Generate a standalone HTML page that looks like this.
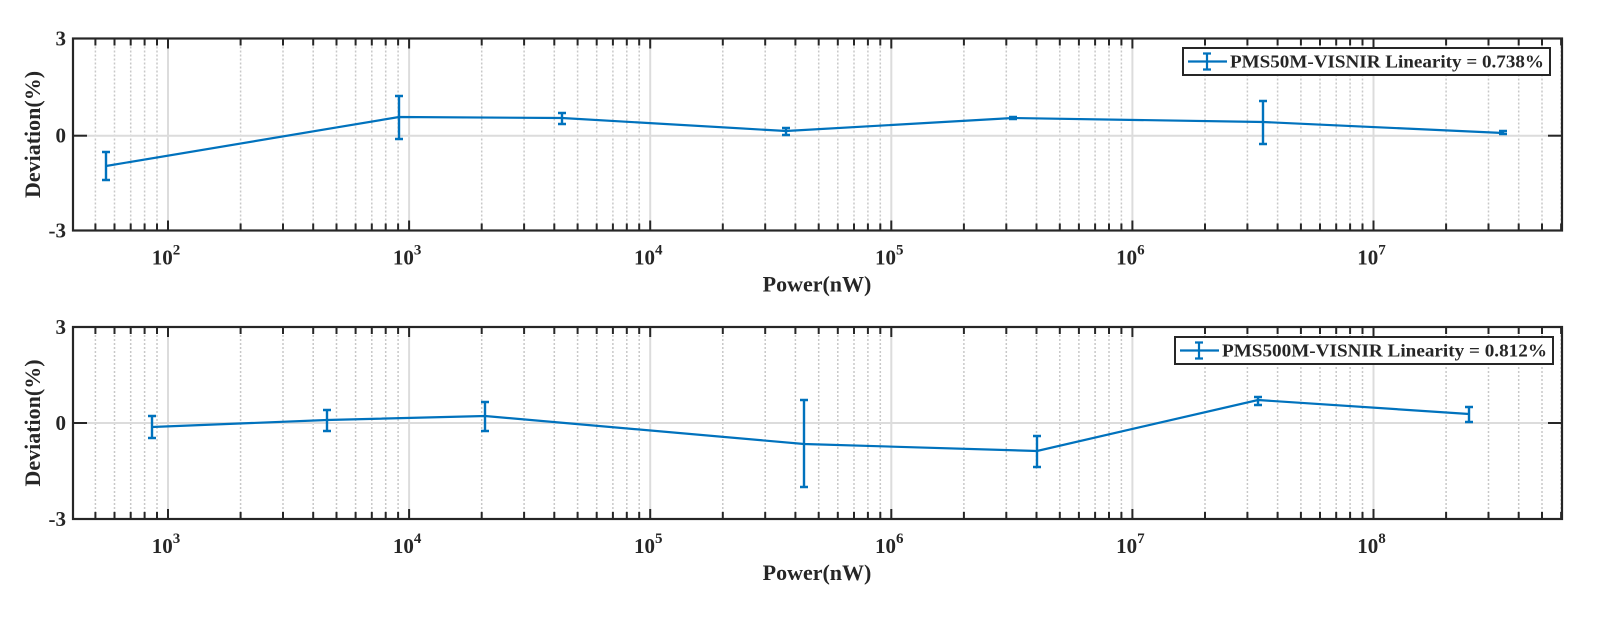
<!DOCTYPE html>
<html><head><meta charset="utf-8"><style>
html,body{margin:0;padding:0;background:#fff;}
svg{display:block;}
text{font-family:"Liberation Serif",serif;font-weight:bold;fill:#262626;}
</style></head><body>
<svg id="s" width="1617" height="640" xmlns="http://www.w3.org/2000/svg"></svg>
<script>
const s=document.getElementById('s');let h='';
const L=73,R=1562,PPD=241.1;
function panel(top,bot,zero,d0,decs,pts,leg){
  const lx=v=>168+(v-d0)*PPD;
  const lmin=(L-168)/PPD+d0, lmax=(R-168)/PPD+d0;
  for(let d=Math.floor(lmin);d<=Math.ceil(lmax);d++){
    for(let m=1;m<10;m++){
      const v=d+Math.log10(m); if(v<lmin||v>lmax)continue;
      const x=lx(v).toFixed(1);
      if(m==1){h+=`<line x1="${x}" y1="${top}" x2="${x}" y2="${bot}" stroke="#dcdcdc" stroke-width="2"/>`;}
      else h+=`<line x1="${x}" y1="${top}" x2="${x}" y2="${bot}" stroke="#c8c8c8" stroke-width="1.5" stroke-dasharray="2,2"/>`;
      const tl=m==1?10:7;
      h+=`<line x1="${x}" y1="${top}" x2="${x}" y2="${top+tl}" stroke="#262626" stroke-width="2"/>`;
      h+=`<line x1="${x}" y1="${bot}" x2="${x}" y2="${bot-tl}" stroke="#262626" stroke-width="2"/>`;
    }
  }
  h+=`<line x1="${L}" y1="${zero}" x2="${R}" y2="${zero}" stroke="#dcdcdc" stroke-width="2"/>`;
  h+=`<line x1="${L}" y1="${zero}" x2="${L+14}" y2="${zero}" stroke="#262626" stroke-width="2"/>`;
  h+=`<line x1="${R}" y1="${zero}" x2="${R-14}" y2="${zero}" stroke="#262626" stroke-width="2"/>`;
  h+=`<rect x="${L}" y="${top}" width="${R-L}" height="${bot-top}" fill="none" stroke="#262626" stroke-width="2.2"/>`;
  h+=`<text x="${L-7}" y="${top+7}" font-size="21" text-anchor="end">3</text>`;
  h+=`<text x="${L-7}" y="${zero+7}" font-size="21" text-anchor="end">0</text>`;
  h+=`<text x="${L-7}" y="${bot+7}" font-size="21" text-anchor="end">-3</text>`;
  h+=`<text transform="translate(40,${(top+bot)/2}) rotate(-90)" font-size="22" text-anchor="middle">Deviation(%)</text>`;
  decs.forEach(d=>{const x=lx(d);h+=`<text x="${x-2}" y="${bot+34}" font-size="21" text-anchor="middle">10<tspan dy="-10" font-size="15">${d}</tspan></text>`;});
  h+=`<text x="817" y="${bot+61}" font-size="22" text-anchor="middle">Power(nW)</text>`;
  h+=`<polyline fill="none" stroke="#0072bd" stroke-width="2.2" points="${pts.map(p=>p[0]+','+p[1]).join(' ')}"/>`;
  pts.forEach(p=>{h+=`<path d="M${p[0]},${p[2]}V${p[3]}M${p[0]-4},${p[2]}H${p[0]+4}M${p[0]-4},${p[3]}H${p[0]+4}" stroke="#0072bd" stroke-width="2.4" fill="none"/>`;});
  const [x1,y1,x2,y2,txt]=leg, cy=(y1+y2)/2;
  h+=`<rect x="${x1}" y="${y1}" width="${x2-x1}" height="${y2-y1}" fill="#fff" stroke="#262626" stroke-width="2"/>`;
  h+=`<path d="M${x1+5},${cy}H${x1+44}M${x1+24},${cy-8}V${cy+8}M${x1+20},${cy-8}H${x1+28}M${x1+20},${cy+8}H${x1+28}" stroke="#0072bd" stroke-width="2.2" fill="none"/>`;
  h+=`<text x="${x1+47}" y="${cy+6}" font-size="18" textLength="${x2-x1-53}" lengthAdjust="spacingAndGlyphs">${txt}</text>`;
}
panel(38.5,230.5,135.7,2,[2,3,4,5,6,7],
 [[106,166,152,180],[399,117,96,139],[562,118,113,124],[786,131,128,135],[1013,118,117,119],[1263,122,101,144],[1503,133,131,134]],
 [1183,48,1550,75,'PMS50M-VISNIR Linearity = 0.738%']);
panel(327,519,423,3,[3,4,5,6,7,8],
 [[152,427,416,438],[327,420,410,431],[485,416,402,431],[804,444,400,487],[1037,451,436,467],[1258,400,397,405],[1469,414,407,422]],
 [1175,337,1553,364,'PMS500M-VISNIR Linearity = 0.812%']);
s.innerHTML=h;
</script>
</body></html>
